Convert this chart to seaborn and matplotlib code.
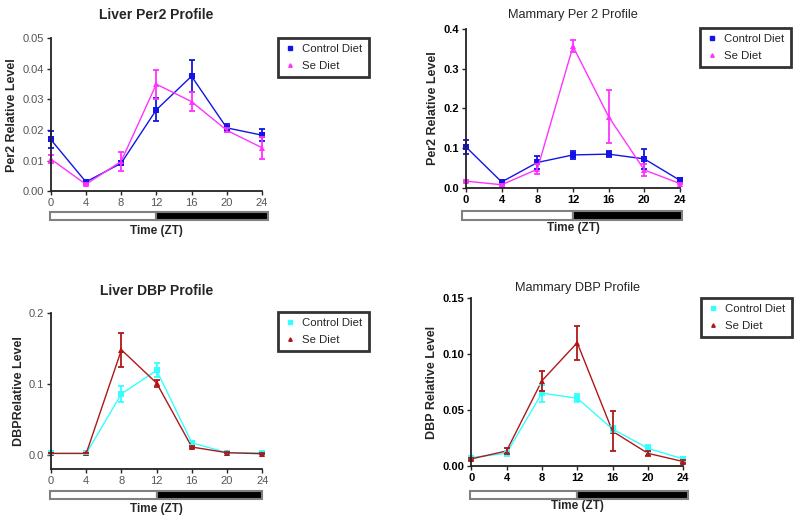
import matplotlib
matplotlib.use('Agg')
import numpy as np
import pandas as pd
import matplotlib.pyplot as plt
import seaborn as sns
from matplotlib.lines import Line2D
from matplotlib.patches import Rectangle
import matplotlib.transforms as mtransforms

sns.set_style('ticks')
plt.rcParams['font.family'] = ['Liberation Sans', 'DejaVu Sans']

# Zeitgeber time (h)
time = [0, 4, 8, 12, 16, 20, 24]
groups = ['Control Diet', 'Se Diet']

# Liver Per2
liver_per2_ctrl = [0.0169, 0.0030, 0.0091, 0.0266, 0.0376, 0.0207, 0.0183]
liver_per2_ctrl_err = [0.0027, 0.0004, 0.0007, 0.0038, 0.0052, 0.0011, 0.0019]
liver_per2_se = [0.0105, 0.0022, 0.0097, 0.0350, 0.0293, 0.0199, 0.0142]
liver_per2_se_err = [0.0012, 0.0003, 0.0031, 0.0047, 0.0031, 0.0006, 0.0036]

# Mammary Per2
mam_per2_ctrl = [0.103, 0.015, 0.064, 0.083, 0.085, 0.073, 0.019]
mam_per2_ctrl_err = [0.018, 0.005, 0.016, 0.010, 0.007, 0.025, 0.003]
mam_per2_se = [0.017, 0.008, 0.047, 0.356, 0.179, 0.045, 0.011]
mam_per2_se_err = [0.002, 0.002, 0.012, 0.015, 0.067, 0.015, 0.002]

# Liver DBP
liver_dbp_ctrl = [0.002, 0.002, 0.086, 0.119, 0.017, 0.003, 0.003]
liver_dbp_ctrl_err = [0.001, 0.001, 0.011, 0.010, 0.003, 0.001, 0.001]
liver_dbp_se = [0.002, 0.002, 0.148, 0.101, 0.011, 0.003, 0.0015]
liver_dbp_se_err = [0.0, 0.0, 0.024, 0.005, 0.001, 0.001, 0.001]

# Mammary DBP
mam_dbp_ctrl = [0.0075, 0.0113, 0.065, 0.0605, 0.033, 0.0158, 0.0063]
mam_dbp_ctrl_err = [0.001, 0.002, 0.0075, 0.0035, 0.003, 0.003, 0.001]
mam_dbp_se = [0.0063, 0.0134, 0.076, 0.110, 0.031, 0.0113, 0.004]
mam_dbp_se_err = [0.001, 0.003, 0.009, 0.015, 0.018, 0.002, 0.001]

fig = plt.figure(figsize=(8, 5.22), dpi=100)


def panel(rect, ctrl, ctrl_err, se, se_err, colors, title, ylabel, ylim, yticks, yfmt,
          title_pad, title_weight, tick_color, tick_weight, bar_y, bar_x, leg_xy):
    ax = fig.add_axes(rect)
    df = pd.DataFrame({
        'time': time * 2,
        'level': ctrl + se,
        'group': [groups[0]] * len(time) + [groups[1]] * len(time),
    })
    pal = dict(zip(groups, colors))
    sns.lineplot(data=df, x='time', y='level', hue='group', style='group',
                 markers={groups[0]: 's', groups[1]: '^'}, dashes=False,
                 palette=pal, linewidth=1.0, markersize=4, markeredgewidth=0,
                 legend=False, ax=ax, clip_on=False)
    for vals, errs, c in [(ctrl, ctrl_err, colors[0]), (se, se_err, colors[1])]:
        ax.errorbar(time, vals, yerr=errs, fmt='none', ecolor=c, elinewidth=1.3,
                    capsize=2.5, capthick=1.3, clip_on=False)
    ax.set_xlim(0, 24)
    ax.set_ylim(*ylim)
    ax.set_xticks(time)
    ax.set_yticks(yticks)
    ax.set_yticklabels([yfmt.format(v) for v in yticks])
    for lab in ax.get_xticklabels() + ax.get_yticklabels():
        lab.set_color(tick_color)
        lab.set_fontweight(tick_weight)
        lab.set_fontsize(8)
    ax.tick_params(direction='out', length=3, width=1, pad=2)
    sns.despine(ax=ax)
    for s in ['left', 'bottom']:
        ax.spines[s].set_linewidth(1.3)
        ax.spines[s].set_color('#222222')
    ax.set_title(title, fontsize=title_weight[1], fontweight=title_weight[0], pad=title_pad)
    ax.set_ylabel(ylabel, fontsize=9, fontweight='bold', labelpad=3)
    ax.set_xlabel('Time (ZT)', fontsize=8.5, fontweight='bold', labelpad=12)
    # light / dark bar
    tr = mtransforms.blended_transform_factory(ax.transData, ax.transAxes)
    y0, h = bar_y
    ax.add_patch(Rectangle((bar_x[0], y0), 12 - bar_x[0], h, transform=tr,
                           facecolor='white', edgecolor='#808080', lw=1.5, clip_on=False))
    ax.add_patch(Rectangle((12, y0), bar_x[1] - 12, h, transform=tr,
                           facecolor='black', edgecolor='#808080', lw=1.5, clip_on=False))
    handles = [Line2D([], [], color=colors[0], marker='s', ls='none', markersize=2.5),
               Line2D([], [], color=colors[1], marker='^', ls='none', markersize=2.5)]
    leg = ax.legend(handles=handles, labels=groups, loc='upper left',
                    bbox_to_anchor=leg_xy, bbox_transform=fig.transFigure,
                    borderaxespad=0, fontsize=8.2, frameon=True, fancybox=False,
                    handlelength=1.0, handletextpad=0.6, borderpad=0.55,
                    labelspacing=0.55)
    leg.get_frame().set_edgecolor('black')
    leg.get_frame().set_linewidth(2)
    return ax


panel([0.0634, 0.634, 0.264, 0.2925], liver_per2_ctrl, liver_per2_ctrl_err,
      liver_per2_se, liver_per2_se_err, ['#1414E6', '#FF33FF'],
      'Liver Per2 Profile', 'Per2 Relative Level', (0, 0.05),
      [0, 0.01, 0.02, 0.03, 0.04, 0.05], '{:.2f}', 14, ('bold', 10),
      '#555555', 'normal', (-0.19, 0.055), (-0.1, 24.7), (278 / 800, 1 - 38 / 522))

panel([0.5825, 0.640, 0.2675, 0.3046], mam_per2_ctrl, mam_per2_ctrl_err,
      mam_per2_se, mam_per2_se_err, ['#1414E6', '#FF33FF'],
      'Mammary Per 2 Profile', 'Per2 Relative Level', (0, 0.4),
      [0, 0.1, 0.2, 0.3, 0.4], '{:.1f}', 8, ('normal', 9.2),
      'black', 'bold', (-0.20, 0.055), (-0.45, 24.2), (700 / 800, 1 - 28 / 522))

panel([0.0638, 0.1015, 0.264, 0.299], liver_dbp_ctrl, liver_dbp_ctrl_err,
      liver_dbp_se, liver_dbp_se_err, ['#33FFFF', '#B01818'],
      'Liver DBP Profile', 'DBPRelative Level', (-0.02, 0.2),
      [0, 0.1, 0.2], '{:.1f}', 13, ('bold', 10),
      '#555555', 'normal', (-0.192, 0.05), (-0.1, 24.0), (278 / 800, 1 - 312 / 522))

panel([0.589, 0.1073, 0.265, 0.322], mam_dbp_ctrl, mam_dbp_ctrl_err,
      mam_dbp_se, mam_dbp_se_err, ['#33FFFF', '#B01818'],
      'Mammary DBP Profile', 'DBP Relative Level', (0, 0.15),
      [0, 0.05, 0.10, 0.15], '{:.2f}', 5, ('normal', 9.2),
      'black', 'bold', (-0.199, 0.05), (-0.1, 24.6), (701 / 800, 1 - 298 / 522))

plt.savefig('out.png', dpi=100)
